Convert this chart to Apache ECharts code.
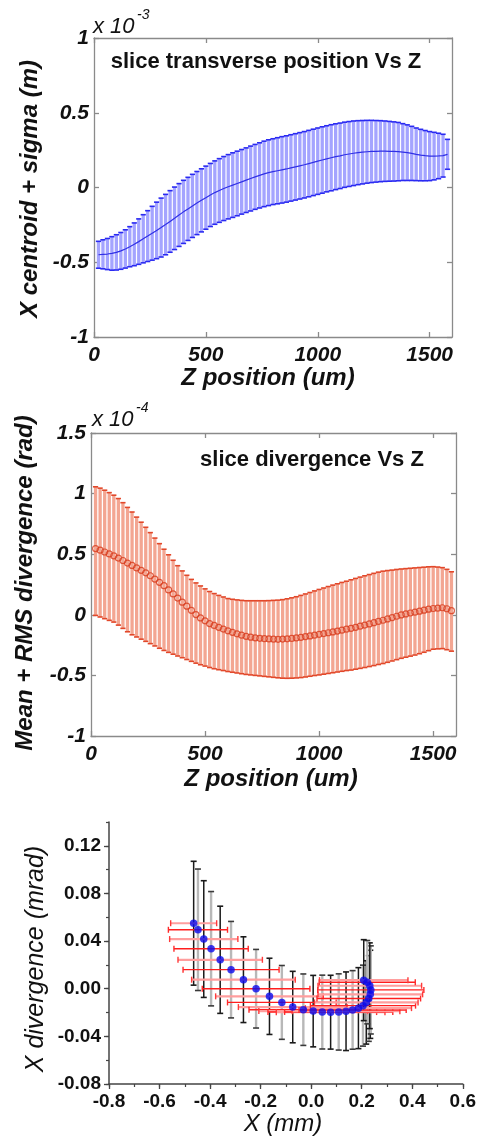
<!DOCTYPE html>
<html>
<head>
<meta charset="utf-8">
<script src="https://cdn.jsdelivr.net/npm/echarts@6/dist/echarts.min.js"></script>
<style>
  html, body { margin: 0; padding: 0; background: #fff; }
  #chart { width: 479px; height: 1138px; }
</style>
</head>
<body>
<div id="chart"></div>
<script>
// Slice positions along the bunch (um)
const zPos = [
  20, 40, 60, 80, 100, 120, 140, 160, 180, 200,
  220, 240, 260, 280, 300, 320, 340, 360, 380, 400,
  420, 440, 460, 480, 500, 520, 540, 560, 580, 600,
  620, 640, 660, 680, 700, 720, 740, 760, 780, 800,
  820, 840, 860, 880, 900, 920, 940, 960, 980, 1000,
  1020, 1040, 1060, 1080, 1100, 1120, 1140, 1160, 1180, 1200,
  1220, 1240, 1260, 1280, 1300, 1320, 1340, 1360, 1380, 1400,
  1420, 1440, 1460, 1480, 1500, 1520, 1540, 1560, 1580
];

// Slice X centroid and sigma (x 1e-3 m)
const xCentroid = [
  -0.450, -0.447, -0.445, -0.441, -0.434, -0.424, -0.411, -0.396, -0.380, -0.362,
  -0.343, -0.325, -0.306, -0.287, -0.268, -0.248, -0.227, -0.206, -0.184, -0.163,
  -0.143, -0.123, -0.104, -0.086, -0.068, -0.050, -0.034, -0.020, -0.007, 0.005,
  0.016, 0.027, 0.038, 0.049, 0.060, 0.071, 0.081, 0.091, 0.099, 0.106,
  0.112, 0.118, 0.124, 0.131, 0.138, 0.145, 0.152, 0.160, 0.168, 0.176,
  0.184, 0.192, 0.199, 0.206, 0.212, 0.219, 0.224, 0.229, 0.233, 0.236,
  0.239, 0.241, 0.242, 0.243, 0.243, 0.242, 0.241, 0.240, 0.237, 0.233,
  0.228, 0.222, 0.217, 0.213, 0.210, 0.210, 0.211, 0.213, 0.222
];
const xSigma = [
  0.090, 0.097, 0.104, 0.112, 0.118, 0.123, 0.128, 0.134, 0.143, 0.152,
  0.161, 0.170, 0.180, 0.189, 0.197, 0.202, 0.206, 0.209, 0.210, 0.211,
  0.211, 0.211, 0.211, 0.211, 0.211, 0.211, 0.212, 0.213, 0.214, 0.215,
  0.216, 0.216, 0.216, 0.216, 0.217, 0.217, 0.218, 0.219, 0.220, 0.220,
  0.221, 0.222, 0.222, 0.222, 0.222, 0.222, 0.222, 0.222, 0.222, 0.222,
  0.222, 0.221, 0.221, 0.220, 0.219, 0.218, 0.217, 0.216, 0.214, 0.212,
  0.210, 0.208, 0.206, 0.204, 0.202, 0.200, 0.198, 0.195, 0.190, 0.186,
  0.181, 0.176, 0.172, 0.168, 0.164, 0.159, 0.152, 0.143, 0.100
];

// Slice divergence: mean and mean +/- RMS (x 1e-4 rad)
const divMean = [
  0.546, 0.533, 0.518, 0.502, 0.487, 0.468, 0.448, 0.427, 0.407, 0.387,
  0.367, 0.346, 0.322, 0.295, 0.268, 0.240, 0.205, 0.172, 0.138, 0.104,
  0.071, 0.037, 0.002, -0.026, -0.050, -0.072, -0.088, -0.103, -0.118, -0.132,
  -0.145, -0.157, -0.168, -0.178, -0.185, -0.190, -0.194, -0.197, -0.199, -0.201,
  -0.202, -0.200, -0.198, -0.195, -0.191, -0.186, -0.180, -0.174, -0.168, -0.161,
  -0.155, -0.148, -0.141, -0.134, -0.127, -0.119, -0.112, -0.103, -0.094, -0.085,
  -0.075, -0.065, -0.055, -0.045, -0.034, -0.023, -0.012, -0.001, 0.007, 0.015,
  0.022, 0.030, 0.038, 0.046, 0.052, 0.055, 0.058, 0.050, 0.034
];
const divUpper = [
  1.056, 1.045, 1.028, 1.008, 0.987, 0.959, 0.925, 0.886, 0.848, 0.806,
  0.764, 0.722, 0.678, 0.633, 0.587, 0.541, 0.495, 0.450, 0.405, 0.362,
  0.326, 0.292, 0.263, 0.238, 0.214, 0.192, 0.175, 0.160, 0.147, 0.134,
  0.128, 0.123, 0.119, 0.116, 0.116, 0.116, 0.116, 0.116, 0.117, 0.119,
  0.121, 0.125, 0.132, 0.140, 0.149, 0.160, 0.172, 0.184, 0.197, 0.209,
  0.221, 0.233, 0.245, 0.256, 0.267, 0.277, 0.289, 0.300, 0.311, 0.322,
  0.332, 0.342, 0.352, 0.360, 0.365, 0.369, 0.374, 0.378, 0.381, 0.384,
  0.387, 0.390, 0.393, 0.396, 0.397, 0.394, 0.389, 0.375, 0.355
];
const divLower = [
  -0.005, -0.018, -0.032, -0.046, -0.060, -0.085, -0.112, -0.140, -0.165, -0.183,
  -0.201, -0.219, -0.238, -0.257, -0.276, -0.294, -0.310, -0.325, -0.340, -0.354,
  -0.369, -0.384, -0.399, -0.412, -0.423, -0.435, -0.445, -0.453, -0.460, -0.468,
  -0.474, -0.480, -0.486, -0.492, -0.496, -0.500, -0.504, -0.508, -0.512, -0.516,
  -0.520, -0.523, -0.524, -0.523, -0.521, -0.518, -0.513, -0.507, -0.501, -0.496,
  -0.490, -0.484, -0.478, -0.472, -0.466, -0.460, -0.456, -0.449, -0.442, -0.435,
  -0.427, -0.419, -0.410, -0.402, -0.392, -0.381, -0.370, -0.359, -0.350, -0.341,
  -0.332, -0.321, -0.309, -0.296, -0.284, -0.281, -0.279, -0.288, -0.300
];

// Phase space: X (mm), X' (mrad) and their spreads
const phaseX = [
  -0.465, -0.448, -0.425, -0.396, -0.360, -0.317, -0.268, -0.218, -0.165, -0.116,
  -0.073, -0.031, 0.008, 0.044, 0.077, 0.109, 0.138, 0.164, 0.187, 0.205,
  0.218, 0.228, 0.234, 0.236, 0.232, 0.222, 0.208
];
const phaseXp = [
  0.0550, 0.0495, 0.0417, 0.0336, 0.0243, 0.0160, 0.0076, 0.0000, -0.0064, -0.0115,
  -0.0154, -0.0176, -0.0188, -0.0196, -0.0197, -0.0195, -0.0189, -0.0178, -0.0163, -0.0142,
  -0.0115, -0.0082, -0.0047, -0.0010, 0.0025, 0.0055, 0.0072
];
const phaseSigX = [
  0.091, 0.117, 0.135, 0.147, 0.167, 0.190, 0.205, 0.213, 0.213, 0.215,
  0.215, 0.215, 0.215, 0.215, 0.215, 0.214, 0.213, 0.212, 0.210, 0.208,
  0.205, 0.205, 0.207, 0.210, 0.205, 0.190, 0.175
];
const phaseSigXp = [
  0.052, 0.051, 0.049, 0.048, 0.045, 0.0405, 0.036, 0.033, 0.032, 0.031,
  0.030, 0.030, 0.030, 0.031, 0.031, 0.032, 0.033, 0.033, 0.034, 0.034,
  0.035, 0.036, 0.037, 0.037, 0.036, 0.035, 0.034
];

// Tick values
const zTicks = [0, 500, 1000, 1500];
const posTicks = [-1, -0.5, 0, 0.5, 1];
const divTicks = [-1, -0.5, 0, 0.5, 1, 1.5];
const phaseXTicks = [-0.8, -0.6, -0.4, -0.2, 0, 0.2, 0.4, 0.6];
const phaseXMinor = [-0.8, -0.7, -0.6, -0.5, -0.4, -0.3, -0.2, -0.1, 0, 0.1, 0.2, 0.3, 0.4, 0.5, 0.6];
const phaseYTicks = [-0.08, -0.04, 0, 0.04, 0.08, 0.12];
const phaseYMinor = [-0.08, -0.06, -0.04, -0.02, 0, 0.02, 0.04, 0.06, 0.08, 0.10, 0.12, 0.14];

const FONT = '"Liberation Sans", Arial, sans-serif';
const FRAME = '#8a8a8a';
const AXIS3 = '#444';

function boxAxes(gridIndex, yMin, yMax, yTicks) {
  const line = { onZero: false, lineStyle: { color: FRAME, width: 1.3 } };
  const tick = (vals) => ({ inside: true, length: 5, customValues: vals, lineStyle: { color: FRAME, width: 1.3 } });
  const label = (vals, margin) => ({
    customValues: vals, margin, color: '#111', fontFamily: FONT,
    fontSize: 21, fontWeight: 'bold', fontStyle: 'italic',
    formatter: v => String(v)
  });
  const base = { type: 'value', gridIndex, splitLine: { show: false }, axisLine: line };
  return {
    x: [
      Object.assign({}, base, { position: 'bottom', min: 0, max: 1600, axisTick: tick(zTicks), axisLabel: label(zTicks, 8) }),
      Object.assign({}, base, { position: 'top', min: 0, max: 1600, axisTick: tick(zTicks), axisLabel: { show: false } })
    ],
    y: [
      Object.assign({}, base, { position: 'left', min: yMin, max: yMax, axisTick: tick(yTicks), axisLabel: label(yTicks, 5) }),
      Object.assign({}, base, { position: 'right', min: yMin, max: yMax, axisTick: tick(yTicks), axisLabel: { show: false } })
    ]
  };
}

const a1 = boxAxes(0, -1, 1, posTicks);
const a2 = boxAxes(1, -1, 1.5, divTicks);

const phaseLabel = {
  color: '#111', fontFamily: FONT, fontSize: 19, fontWeight: 'bold', margin: 8
};
const phaseAxesX = [
  {
    type: 'value', gridIndex: 2, position: 'bottom', min: -0.8, max: 0.6,
    splitLine: { show: false },
    axisLine: { onZero: false, lineStyle: { color: AXIS3, width: 1.5 } },
    axisTick: { inside: false, length: 5, customValues: phaseXTicks, lineStyle: { color: AXIS3, width: 1.3 } },
    axisLabel: Object.assign({ customValues: phaseXTicks, formatter: v => Number(v).toFixed(1) }, phaseLabel)
  },
  {
    type: 'value', gridIndex: 2, position: 'bottom', min: -0.8, max: 0.6,
    splitLine: { show: false }, axisLine: { show: false, onZero: false },
    axisTick: { inside: false, length: 3, customValues: phaseXMinor, lineStyle: { color: AXIS3, width: 1.2 } },
    axisLabel: { show: false }
  }
];
const phaseAxesY = [
  {
    type: 'value', gridIndex: 2, position: 'left', min: -0.08, max: 0.14,
    splitLine: { show: false },
    axisLine: { onZero: false, lineStyle: { color: AXIS3, width: 1.5 } },
    axisTick: { inside: false, length: 5, customValues: phaseYTicks, lineStyle: { color: AXIS3, width: 1.3 } },
    axisLabel: Object.assign({ customValues: phaseYTicks, formatter: v => Number(v).toFixed(2) }, phaseLabel)
  },
  {
    type: 'value', gridIndex: 2, position: 'left', min: -0.08, max: 0.14,
    splitLine: { show: false }, axisLine: { show: false, onZero: false },
    axisTick: { inside: false, length: 3, customValues: phaseYMinor, lineStyle: { color: AXIS3, width: 1.2 } },
    axisLabel: { show: false }
  }
];

function seg(x1, y1, x2, y2, stroke, lineWidth) {
  return { type: 'line', shape: { x1, y1, x2, y2 }, style: { stroke, lineWidth } };
}

// Vertical error bar between two data values, with end caps
function vBar(api, x, lo, hi, stem, stemW, cap, capW, half) {
  const a = api.coord([x, hi]);
  const b = api.coord([x, lo]);
  return {
    type: 'group',
    children: [
      seg(a[0], a[1], b[0], b[1], stem, stemW),
      seg(a[0] - half, a[1], a[0] + half, a[1], cap, capW),
      seg(b[0] - half, b[1], b[0] + half, b[1], cap, capW)
    ]
  };
}

// Horizontal error bar between two data values, with end caps
function hBar(api, y, lo, hi, stem, stemW, cap, capW, half) {
  const a = api.coord([lo, y]);
  const b = api.coord([hi, y]);
  return {
    type: 'group',
    children: [
      seg(a[0], a[1], b[0], b[1], stem, stemW),
      seg(a[0], a[1] - half, a[0], a[1] + half, cap, capW),
      seg(b[0], b[1] - half, b[0], b[1] + half, cap, capW)
    ]
  };
}

const text = (x, y, str, font, rotation) => ({
  type: 'text', x, y, rotation: rotation || 0, z: 100,
  style: {
    text: str, font, fill: '#111',
    align: 'center', verticalAlign: 'middle',
    textAlign: 'center', textVerticalAlign: 'middle'
  }
});
const leftText = (x, y, str, font) => ({
  type: 'text', x, y, z: 100,
  style: {
    text: str, font, fill: '#111',
    align: 'left', verticalAlign: 'middle',
    textAlign: 'left', textVerticalAlign: 'middle'
  }
});

const TITLE = 'italic bold 24px ' + FONT;
const INNER = 'bold 22px ' + FONT;
const EXP = 'italic 22px ' + FONT;
const EXP_SUP = 'italic 14px ' + FONT;
const TITLE3_Y = 'italic 25px ' + FONT;
const TITLE3_X = 'italic 24px ' + FONT;

const option = {
  backgroundColor: '#fff',
  animation: false,
  grid: [
    { left: 94, top: 38, width: 358, height: 299 },
    { left: 91, top: 433, width: 365, height: 303 },
    { left: 109, top: 822, width: 354, height: 262 }
  ],
  xAxis: [a1.x[0], a1.x[1], a2.x[0], a2.x[1], phaseAxesX[0], phaseAxesX[1]],
  yAxis: [a1.y[0], a1.y[1], a2.y[0], a2.y[1], phaseAxesY[0], phaseAxesY[1]],
  series: [
    {
      type: 'custom', xAxisIndex: 0, yAxisIndex: 0, z: 2,
      data: zPos.map((z, i) => [z, xCentroid[i], xSigma[i]]),
      encode: { x: 0, y: 1 },
      renderItem: (params, api) => {
        const m = api.value(1), s = api.value(2);
        return vBar(api, api.value(0), m - s, m + s, '#a4a4ff', 3.3, '#2a2af2', 1.6, 2.6);
      }
    },
    {
      type: 'line', xAxisIndex: 0, yAxisIndex: 0, z: 3,
      data: zPos.map((z, i) => [z, xCentroid[i]]),
      showSymbol: false, symbol: 'none',
      lineStyle: { color: '#3030e6', width: 1.2 }
    },
    {
      type: 'custom', xAxisIndex: 2, yAxisIndex: 2, z: 2,
      data: zPos.map((z, i) => [z, divMean[i], divLower[i], divUpper[i]]),
      encode: { x: 0, y: 1 },
      renderItem: (params, api) =>
        vBar(api, api.value(0), api.value(2), api.value(3), '#f3a692', 3.3, '#e2482a', 1.6, 2.6)
    },
    {
      type: 'scatter', xAxisIndex: 2, yAxisIndex: 2, z: 3,
      data: zPos.map((z, i) => [z, divMean[i]]),
      symbol: 'circle', symbolSize: 6,
      itemStyle: { color: 'rgba(0,0,0,0)', borderColor: '#d83a1a', borderWidth: 1.2 }
    },
    {
      type: 'custom', xAxisIndex: 4, yAxisIndex: 4, z: 2,
      data: phaseX.map((x, i) => [x, phaseXp[i], phaseSigXp[i]]),
      encode: { x: 0, y: 1 },
      renderItem: (params, api) => {
        const y = api.value(1), s = api.value(2);
        const dark = params.dataIndex % 2 === 0;
        return dark
          ? vBar(api, api.value(0), y - s, y + s, '#1a1a1a', 1.5, '#1a1a1a', 1.6, 3)
          : vBar(api, api.value(0), y - s, y + s, '#b8b8b8', 2.4, '#3a3a3a', 1.6, 3);
      }
    },
    {
      type: 'custom', xAxisIndex: 4, yAxisIndex: 4, z: 3,
      data: phaseX.map((x, i) => [x, phaseXp[i], phaseSigX[i]]),
      encode: { x: 0, y: 1 },
      renderItem: (params, api) => {
        const x = api.value(0), s = api.value(2);
        const strong = params.dataIndex % 2 === 1;
        return strong
          ? hBar(api, api.value(1), x - s, x + s, '#ff1e1e', 1.4, '#ff2a2a', 1.4, 3)
          : hBar(api, api.value(1), x - s, x + s, '#ff9e9e', 2.2, '#ff3a3a', 1.4, 3);
      }
    },
    {
      type: 'scatter', xAxisIndex: 4, yAxisIndex: 4, z: 4,
      data: phaseX.map((x, i) => [x, phaseXp[i]]),
      symbol: 'circle', symbolSize: 7.5,
      itemStyle: { color: '#0a0aee' }
    }
  ],
  graphic: [
    text(30, 189, 'X centroid + sigma (m)', TITLE, Math.PI / 2),
    text(268, 378, 'Z position (um)', TITLE),
    text(266, 62, 'slice transverse position Vs Z', INNER),
    leftText(93, 27, 'x 10', EXP),
    leftText(137, 15, '-3', EXP_SUP),

    text(25, 583, 'Mean + RMS divergence (rad)', TITLE, Math.PI / 2),
    text(271, 779, 'Z position (um)', TITLE),
    text(312, 460, 'slice divergence Vs Z', INNER),
    leftText(92, 420, 'x 10', EXP),
    leftText(136, 408, '-4', EXP_SUP),

    text(36, 959, 'X divergence (mrad)', TITLE3_Y, Math.PI / 2),
    text(283, 1124, 'X (mm)', TITLE3_X)
  ]
};

const chart = echarts.init(document.getElementById('chart'), null, { renderer: 'canvas' });
chart.setOption(option);
</script>
</body>
</html>
